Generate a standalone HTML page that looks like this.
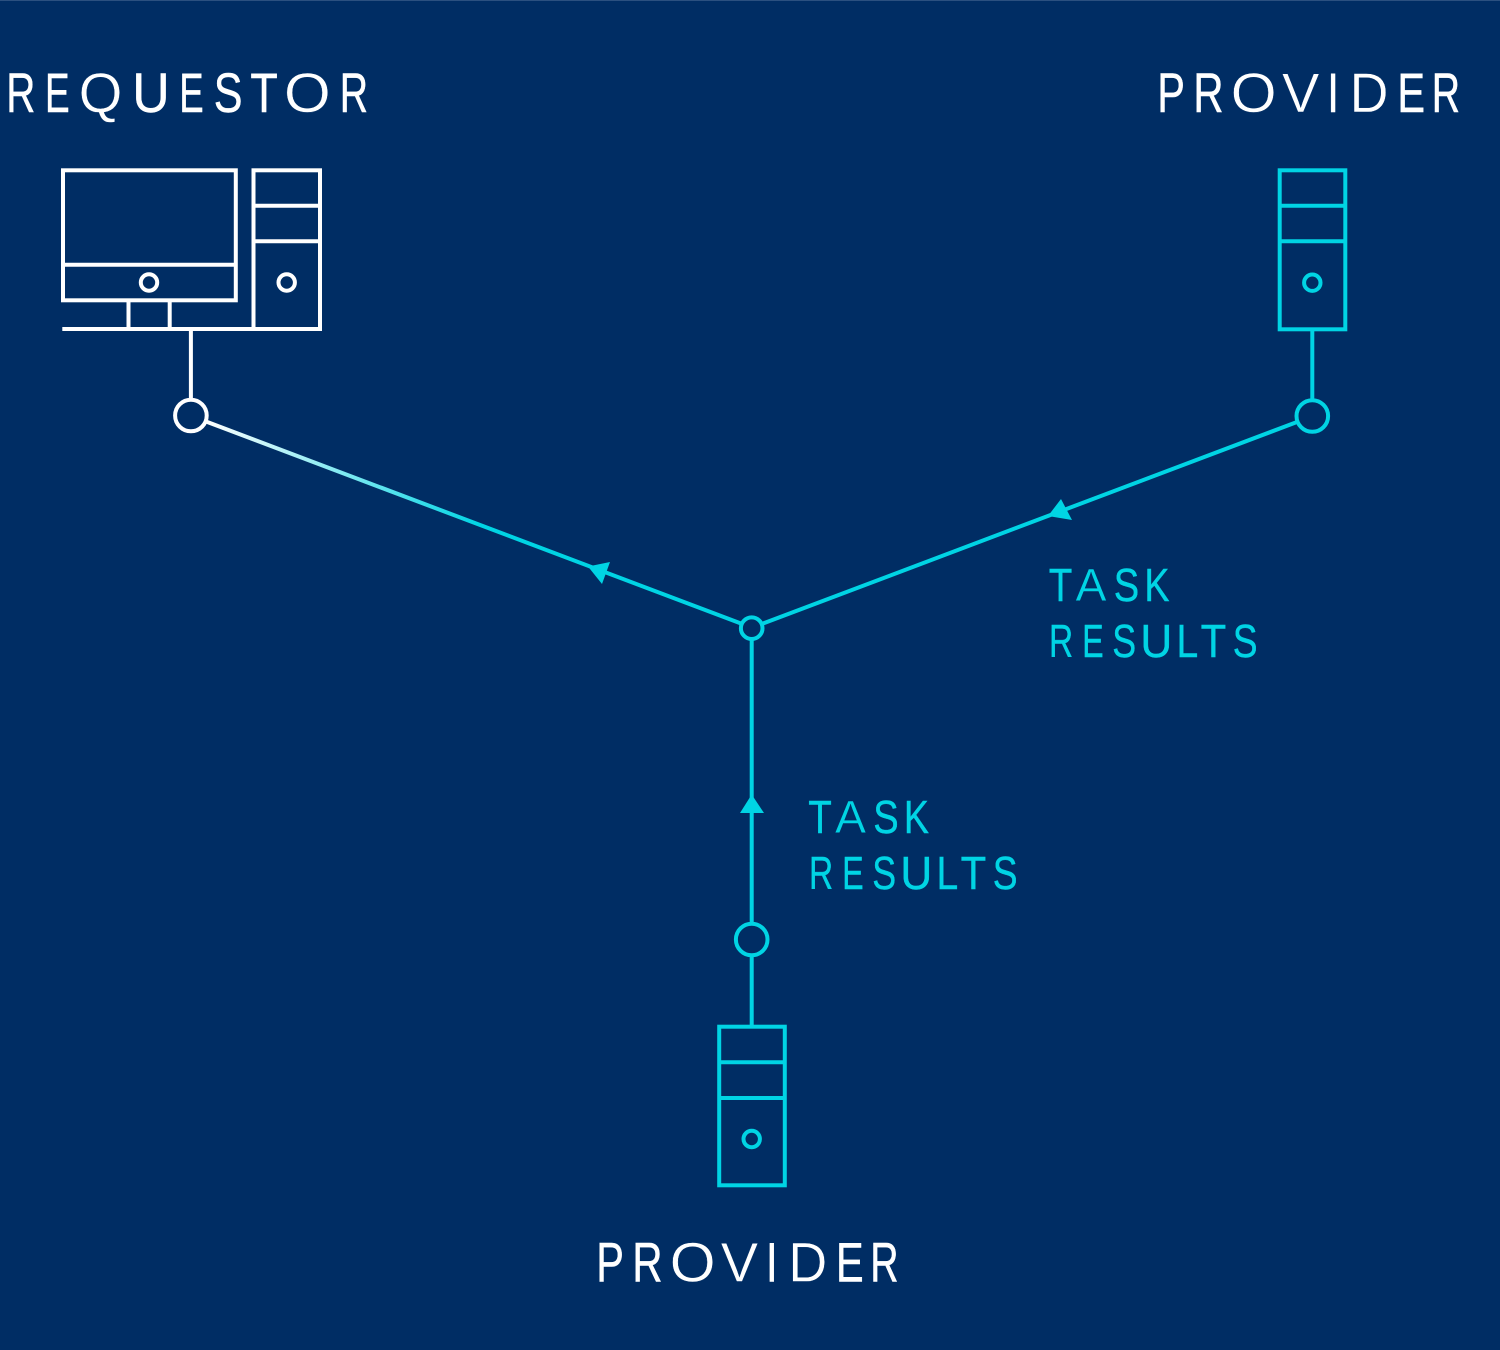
<!DOCTYPE html>
<html>
<head>
<meta charset="utf-8">
<style>
html,body{margin:0;padding:0;background:#002d64;}
svg{display:block;}
text{font-family:"Liberation Sans",sans-serif;}
.t{font-size:56px;fill:#fff;stroke:#fff;stroke-width:.5px;}
.c{font-size:46.5px;fill:#00d4e4;stroke:#00d4e4;stroke-width:.4px;}
.thin{stroke:#002d64;stroke-width:.4px;}
</style>
</head>
<body>
<svg width="1500" height="1350" viewBox="0 0 1500 1350" xmlns="http://www.w3.org/2000/svg">
<defs>
<linearGradient id="g" gradientUnits="userSpaceOnUse" x1="205" y1="422" x2="480" y2="527">
<stop offset="0" stop-color="#ffffff"/>
<stop offset="1" stop-color="#00d4e4"/>
</linearGradient>
</defs>
<rect width="1500" height="1350" fill="#002d64"/>
<rect width="1500" height="1" fill="#2b5080"/>

<!-- REQUESTOR -->
<g class="t">
<text transform="translate(6.200,112) scale(.72,1)">R</text>
<text transform="translate(45,112) scale(.66,1)">E</text>
<text class="thin" transform="translate(78.700,112) scale(1,1)">Q</text>
<text transform="translate(132.400,112) scale(.92,1)">U</text>
<text transform="translate(179.400,112) scale(.65,1)">E</text>
<text transform="translate(213.800,112) scale(.77,1)">S</text>
<text transform="translate(250.400,112) scale(.8,1)">T</text>
<text class="thin" transform="translate(284,112) scale(1.07,1)">O</text>
<text transform="translate(339.800,112) scale(.7,1)">R</text>
</g>

<!-- PROVIDER top -->
<g class="t">
<text transform="translate(1157.300,112) scale(.74,1)">P</text>
<text transform="translate(1193.300,112) scale(.75,1)">R</text>
<text class="thin" transform="translate(1230.800,112) scale(1.05,1)">O</text>
<text class="thin" transform="translate(1282,112) scale(1,1)">V</text>
<text transform="translate(1327.300,112) scale(.75,1)">I</text>
<text class="thin" transform="translate(1349.600,112) scale(.96,1)">D</text>
<text transform="translate(1397.400,112) scale(.74,1)">E</text>
<text transform="translate(1431.700,112) scale(.7,1)">R</text>
</g>

<!-- PROVIDER bottom -->
<g class="t">
<text transform="translate(596.300,1281.600) scale(.74,1)">P</text>
<text transform="translate(632.300,1281.600) scale(.75,1)">R</text>
<text class="thin" transform="translate(669.800,1281.600) scale(1.05,1)">O</text>
<text class="thin" transform="translate(720.800,1281.600) scale(1,1)">V</text>
<text transform="translate(766,1281.600) scale(.75,1)">I</text>
<text class="thin" transform="translate(788.400,1281.600) scale(.96,1)">D</text>
<text transform="translate(836,1281.600) scale(.74,1)">E</text>
<text transform="translate(870.200,1281.600) scale(.7,1)">R</text>
</g>

<!-- TASK RESULTS lower -->
<g class="c">
<text transform="translate(808.200,833) scale(.83,1)">T</text>
<text class="thin" transform="translate(835,833) scale(1,1)">A</text>
<text transform="translate(873.300,833) scale(.82,1)">S</text>
<text transform="translate(903.900,833) scale(.81,1)">K</text>
<text transform="translate(809,889) scale(.72,1)">R</text>
<text transform="translate(842.200,889) scale(.69,1)">E</text>
<text transform="translate(872.200,889) scale(.77,1)">S</text>
<text transform="translate(900.400,889) scale(.95,1)">U</text>
<text transform="translate(936.500,889) scale(.84,1)">L</text>
<text transform="translate(960.600,889) scale(.9,1)">T</text>
<text transform="translate(992.700,889) scale(.8,1)">S</text>
</g>

<!-- TASK RESULTS upper -->
<g class="c">
<text transform="translate(1048.700,601) scale(.83,1)">T</text>
<text class="thin" transform="translate(1075.500,601) scale(1,1)">A</text>
<text transform="translate(1113.800,601) scale(.82,1)">S</text>
<text transform="translate(1144.400,601) scale(.81,1)">K</text>
<text transform="translate(1049,657) scale(.72,1)">R</text>
<text transform="translate(1082.200,657) scale(.69,1)">E</text>
<text transform="translate(1112.200,657) scale(.77,1)">S</text>
<text transform="translate(1140.400,657) scale(.95,1)">U</text>
<text transform="translate(1176.500,657) scale(.84,1)">L</text>
<text transform="translate(1200.600,657) scale(.9,1)">T</text>
<text transform="translate(1232.700,657) scale(.8,1)">S</text>
</g>

<!-- Requestor computer -->
<g fill="none" stroke="#fff" stroke-width="4">
<rect x="63" y="170.300" width="172.800" height="130"/>
<line x1="63" y1="264.800" x2="236" y2="264.800"/>
<circle cx="149" cy="282.500" r="8.200"/>
<line x1="128.500" y1="300" x2="128.500" y2="329"/>
<line x1="169.700" y1="300" x2="169.700" y2="329"/>
<line x1="62.300" y1="329" x2="254" y2="329"/>
<rect x="253.500" y="170.300" width="66.500" height="158.700"/>
<line x1="254" y1="205.700" x2="320" y2="205.700"/>
<line x1="254" y1="241.300" x2="320" y2="241.300"/>
<circle cx="286.700" cy="282.500" r="8.200"/>
<line x1="190.900" y1="329" x2="190.900" y2="399"/>
<circle cx="190.900" cy="415.500" r="15.800"/>
</g>

<!-- Connector to requestor -->
<line x1="206" y1="421.500" x2="741" y2="623.500" stroke="url(#g)" stroke-width="4"/>
<polygon points="588,566.500 610,562 602,584" fill="#00d4e4"/>

<!-- Top right provider -->
<g fill="none" stroke="#00d4e4" stroke-width="4">
<rect x="1279.700" y="170.300" width="65.600" height="159"/>
<line x1="1279.700" y1="205.700" x2="1345.300" y2="205.700"/>
<line x1="1279.700" y1="241.300" x2="1345.300" y2="241.300"/>
<circle cx="1312.300" cy="282.700" r="8.200"/>
<line x1="1312.300" y1="329" x2="1312.300" y2="400"/>
<circle cx="1312.300" cy="416" r="15.800"/>
<line x1="1297" y1="422" x2="763" y2="623.500"/>
</g>
<polygon points="1048,516 1061,499 1072,520" fill="#00d4e4"/>

<!-- Junction and bottom provider -->
<g fill="none" stroke="#00d4e4" stroke-width="4">
<circle cx="751.700" cy="628.200" r="10.800"/>
<line x1="751.700" y1="639" x2="751.700" y2="923.500"/>
<circle cx="751.700" cy="939.500" r="15.800"/>
<line x1="751.700" y1="955.500" x2="751.700" y2="1026"/>
<rect x="719.200" y="1026.700" width="65.600" height="158.600"/>
<line x1="719.200" y1="1062.300" x2="784.800" y2="1062.300"/>
<line x1="719.200" y1="1098" x2="784.800" y2="1098"/>
<circle cx="751.700" cy="1139" r="8.200"/>
</g>
<polygon points="751.700,794.500 764,813 740,813" fill="#00d4e4"/>
</svg>
</body>
</html>
